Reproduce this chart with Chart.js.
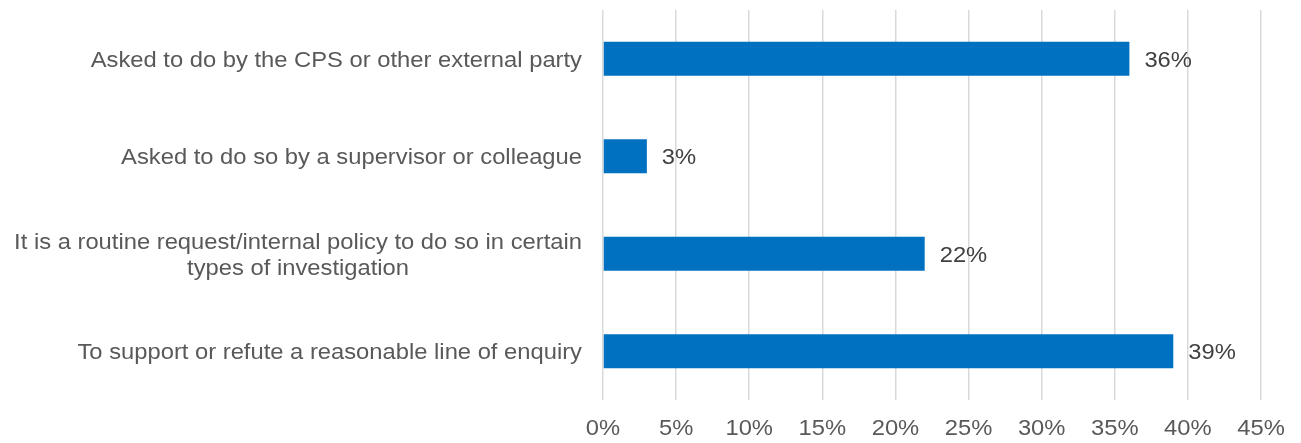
<!DOCTYPE html>
<html>
<head>
<meta charset="utf-8">
<script src="https://cdn.jsdelivr.net/npm/chart.js@4.4.1/dist/chart.umd.min.js"></script>
<style>
  html, body { margin: 0; padding: 0; background: #fff; }
  #wrap { width: 1301px; height: 443px; }
</style>
</head>
<body>
<div id="wrap"><canvas id="reasonChart" width="1301" height="443"></canvas></div>
<script>
// reasons and share of responses (%)
const reasons = [
  ["Asked to do by the CPS or other external party"],
  ["Asked to do so by a supervisor or colleague"],
  ["It is a routine request/internal policy to do so in certain", "types of investigation"],
  ["To support or refute a reasonable line of enquiry"],
];
const shares = [36, 3, 22, 39];
const axisMax = 45;
const axisStep = 5;

const FONT = "22px 'Liberation Sans', Arial, sans-serif";
const STRETCH = 1.08; // slightly wide lettering

function wideText(ctx, text, x, y, align) {
  ctx.save();
  ctx.translate(x, y);
  ctx.scale(STRETCH, 1);
  ctx.textAlign = align;
  ctx.fillText(text, 0, 0);
  ctx.restore();
}

// all text: category labels, % ticks and bar values
const chartText = {
  id: "chartText",
  afterDraw(chart) {
    const { ctx, chartArea, scales } = chart;
    ctx.save();
    ctx.font = FONT;
    ctx.textBaseline = "middle";

    // category labels: right-aligned block, lines centred within it
    ctx.fillStyle = "#595959";
    const right = chartArea.left - 21;
    const lineH = 26;
    reasons.forEach((lines, i) => {
      const y = scales.y.getPixelForValue(i);
      const w = Math.max(...lines.map((l) => ctx.measureText(l).width)) * STRETCH;
      const cx = right - w / 2;
      const top = y - ((lines.length - 1) * lineH) / 2;
      lines.forEach((l, j) => wideText(ctx, l, cx, top + j * lineH + 2, "center"));
    });

    // x tick labels
    scales.x.ticks.forEach((t) => {
      wideText(ctx, t.value + "%", scales.x.getPixelForValue(t.value), chartArea.bottom + 29, "center");
    });

    // values at the bar ends
    ctx.fillStyle = "#404040";
    chart.getDatasetMeta(0).data.forEach((bar, i) => {
      wideText(ctx, shares[i] + "%", bar.x + 15, bar.y + 2, "left");
    });
    ctx.restore();
  },
};

const ctx = document.getElementById("reasonChart").getContext("2d");
new Chart(ctx, {
  type: "bar",
  data: {
    labels: reasons.map((r) => r.join(" ")),
    datasets: [
      {
        data: shares,
        backgroundColor: "#0070C0",
        borderWidth: 0,
        categoryPercentage: 1,
        barPercentage: 0.35,
      },
    ],
  },
  options: {
    indexAxis: "y",
    responsive: false,
    animation: false,
    layout: { padding: { top: 10, right: 40, bottom: 0, left: 0 } },
    plugins: { legend: { display: false }, tooltip: { enabled: false } },
    scales: {
      x: {
        min: 0,
        max: axisMax,
        ticks: { stepSize: axisStep, display: false },
        grid: { color: "#d9d9d9", lineWidth: 1.5, drawTicks: false },
        border: { display: false },
        afterFit(scale) {
          scale.height = 43;
        },
      },
      y: {
        ticks: { display: false },
        grid: { display: false },
        border: { display: false },
        afterFit(scale) {
          scale.width = 603;
        },
      },
    },
  },
  plugins: [chartText],
});
</script>
</body>
</html>
